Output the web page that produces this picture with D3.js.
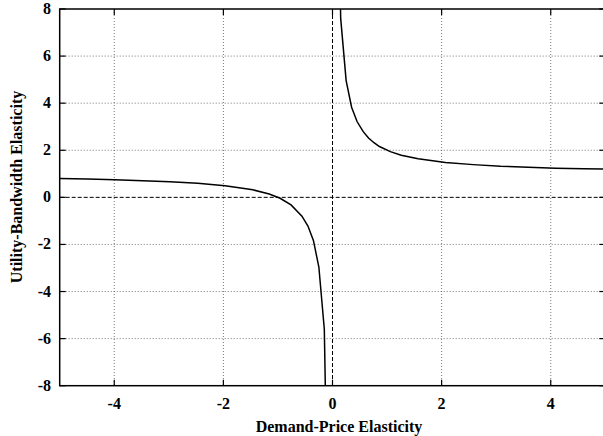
<!DOCTYPE html>
<html>
<head>
<meta charset="utf-8">
<script src="https://cdn.jsdelivr.net/npm/d3@7"></script>
<style>
  body { margin: 0; background: #fff; }
  text { font-family: "Liberation Serif", "Times New Roman", serif; font-weight: bold; }
</style>
</head>
<body>
<div id="chart"></div>
<script>
// Values
const xTicks = [-4, -2, 0, 2, 4];
const yTicks = [-8, -6, -4, -2, 0, 2, 4, 6, 8];

const negX = [-5, -4.49, -3.99, -3.48, -2.98, -2.47, -1.97, -1.46, -1.16, -0.96, -0.76, -0.56, -0.45, -0.35, -0.25, -0.15, -0.05];
const negY = [0.80, 0.78, 0.75, 0.71, 0.66, 0.60, 0.49, 0.32, 0.14, -0.04, -0.32, -0.80, -1.22, -1.83, -2.96, -5.60, -18.8];

const posX = [0.05, 0.15, 0.25, 0.35, 0.45, 0.56, 0.66, 0.76, 0.86, 1.06, 1.26, 1.57, 2.07, 2.58, 3.08, 3.59, 4.09, 4.60, 5.00];
const posY = [20.8, 7.60, 4.96, 3.83, 3.22, 2.80, 2.52, 2.32, 2.16, 1.94, 1.79, 1.64, 1.48, 1.39, 1.32, 1.28, 1.24, 1.22, 1.20];

const W = 603, H = 436;

const x = d3.scaleLinear().domain([-5, 5]).range([59.7, 605.3]);
const y = d3.scaleLinear().domain([-8, 8]).range([385.7, 9]);

const svg = d3.select("#chart").append("svg")
  .attr("width", W).attr("height", H);

svg.append("clipPath").attr("id", "clip")
  .append("rect")
  .attr("x", x(-5)).attr("y", y(8))
  .attr("width", x(5) - x(-5)).attr("height", y(-8) - y(8));

// Grid
const grid = svg.append("g");
grid.selectAll("line.gx")
  .data(xTicks.filter(d => d !== 0))
  .join("line")
  .attr("x1", d => x(d)).attr("x2", d => x(d))
  .attr("y1", y(8)).attr("y2", y(-8))
  .attr("stroke", "#555").attr("stroke-width", 0.8)
  .attr("stroke-dasharray", "1,2");
grid.selectAll("line.gy")
  .data(yTicks.filter(d => d !== 0 && d !== 8 && d !== -8))
  .join("line")
  .attr("x1", x(-5)).attr("x2", x(5))
  .attr("y1", d => y(d)).attr("y2", d => y(d))
  .attr("stroke", "#555").attr("stroke-width", 0.8)
  .attr("stroke-dasharray", "1,2");

// Zero axes (dashed)
svg.append("line")
  .attr("x1", x(0)).attr("x2", x(0)).attr("y1", y(8)).attr("y2", y(-8))
  .attr("stroke", "#000").attr("stroke-width", 1).attr("stroke-dasharray", "4,2");
svg.append("line")
  .attr("x1", x(-5)).attr("x2", x(5)).attr("y1", y(0)).attr("y2", y(0))
  .attr("stroke", "#000").attr("stroke-width", 1).attr("stroke-dasharray", "4,2");

// Border
svg.append("rect")
  .attr("x", x(-5)).attr("y", y(8))
  .attr("width", x(5) - x(-5)).attr("height", y(-8) - y(8))
  .attr("fill", "none").attr("stroke", "#000").attr("stroke-width", 1.5);

// Ticks (inward, mirrored)
const tl = 6;
const ticks = svg.append("g").attr("stroke", "#000").attr("stroke-width", 1.2);
xTicks.forEach(t => {
  ticks.append("line").attr("x1", x(t)).attr("x2", x(t)).attr("y1", y(-8)).attr("y2", y(-8) - tl);
  ticks.append("line").attr("x1", x(t)).attr("x2", x(t)).attr("y1", y(8)).attr("y2", y(8) + tl);
});
yTicks.forEach(t => {
  ticks.append("line").attr("x1", x(-5)).attr("x2", x(-5) + tl).attr("y1", y(t)).attr("y2", y(t));
  ticks.append("line").attr("x1", x(5)).attr("x2", x(5) - tl).attr("y1", y(t)).attr("y2", y(t));
});

// Tick labels
svg.append("g").selectAll("text")
  .data(yTicks).join("text")
  .attr("x", 51).attr("y", d => y(d) + 5)
  .attr("text-anchor", "end").attr("font-size", 16)
  .text(d => d);
svg.append("g").selectAll("text")
  .data(xTicks).join("text")
  .attr("x", d => x(d)).attr("y", 409)
  .attr("text-anchor", "middle").attr("font-size", 16)
  .text(d => d);

// Axis titles
svg.append("text")
  .attr("x", 339).attr("y", 432)
  .attr("text-anchor", "middle").attr("font-size", 16)
  .text("Demand-Price Elasticity");
svg.append("text")
  .attr("transform", "translate(22, 187) rotate(-90)")
  .attr("text-anchor", "middle").attr("font-size", 16)
  .text("Utility-Bandwidth Elasticity");

// Curve
const line = d3.line().x(d => x(d[0])).y(d => y(d[1]));
const curves = svg.append("g").attr("clip-path", "url(#clip)");
[d3.zip(negX, negY), d3.zip(posX, posY)].forEach(pts => {
  curves.append("path")
    .attr("d", line(pts))
    .attr("fill", "none").attr("stroke", "#000").attr("stroke-width", 1.5);
});
</script>
</body>
</html>
